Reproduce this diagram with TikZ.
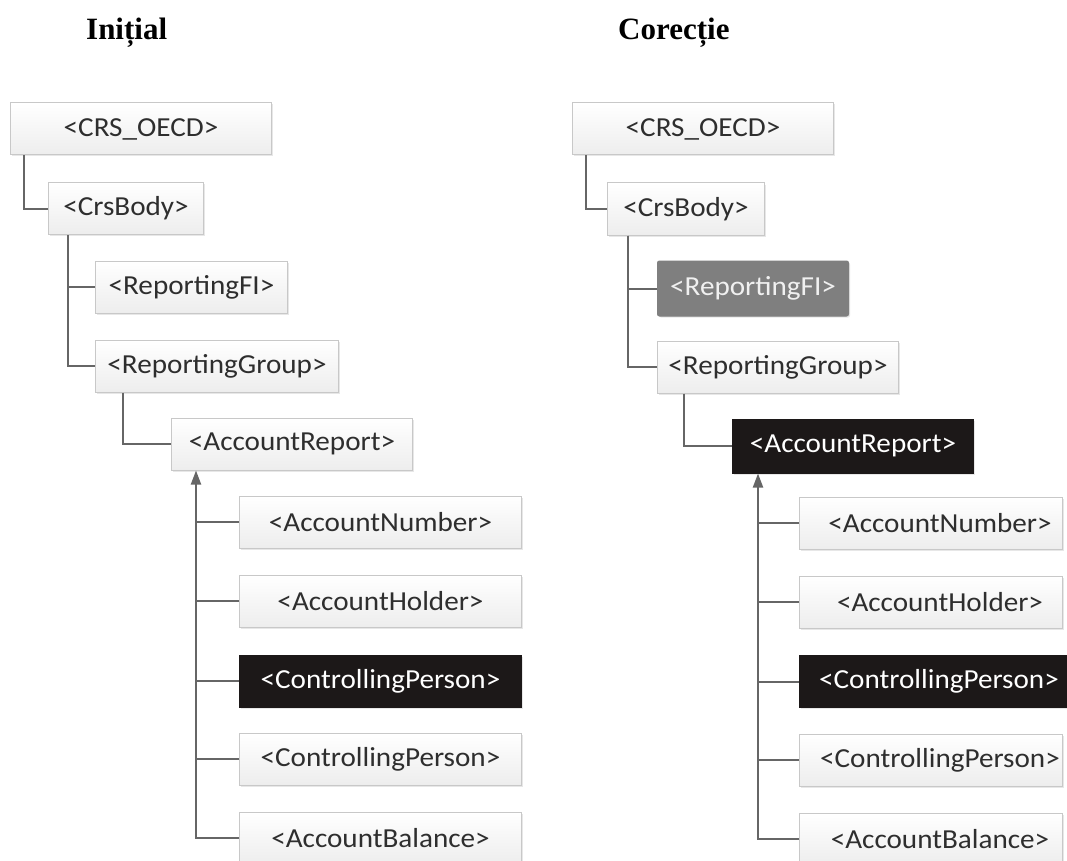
\documentclass[tikz,border=0pt]{standalone}
\usepackage{fontspec}
\newfontfamily\boxfont[FakeStretch=1.06]{Carlito}
\newfontfamily\headfont{Liberation Serif}
\usetikzlibrary{arrows.meta,shadows}
\definecolor{boxline}{HTML}{C8C8C8}
\definecolor{connc}{HTML}{666666}
\definecolor{boxtext}{HTML}{2E2E2E}
\definecolor{darkbox}{HTML}{1C1818}
\definecolor{midbox}{HTML}{7F7F7F}
\tikzset{
  el/.style={draw=boxline, line width=1pt, top color=white, bottom color=gray!14,
    anchor=west, minimum height=52pt, inner sep=0pt,
    font=\boxfont\fontsize{27.5}{30}\selectfont, text=boxtext,
    drop shadow={shadow xshift=1.5pt, shadow yshift=-1.5pt, opacity=0.3, fill=gray!60}},
  darkel/.style={el, draw=darkbox, top color=darkbox, bottom color=darkbox, text=white},
  midel/.style={el, draw=midbox, top color=midbox, bottom color=midbox, text=gray!12,
    rounded corners=2pt, minimum height=55pt},
  conn/.style={draw=connc, line width=2pt},
  upconn/.style={conn, -{Triangle[length=14pt,width=10pt]}},
  head/.style={anchor=base west, font=\headfont\bfseries\fontsize{31}{36}\selectfont,
    inner sep=0pt}
}
\begin{document}
\begin{tikzpicture}[x=1pt,y=-1pt]
\useasboundingbox (0,0) rectangle (1067,861);
\fill[white] (0,0) rectangle (1067,861);

% headers
\node[head] (hL) at (86,40) {Inițial};
\node[head] (hR) at (618,40) {Corecție};

% ---------- left tree ----------
\node[el, minimum width=261pt] (crsL) at (10,129) {<CRS\_OECD>};
\node[el, minimum width=155pt] (bodyL) at (48,208.5) {<CrsBody>};
\node[el, minimum width=192pt] (fiL) at (95,287) {<ReportingFI>};
\node[el, minimum width=243pt] (grpL) at (95,366) {<ReportingGroup>};
\node[el, minimum width=241pt] (arL) at (171,444) {<AccountReport>};
\node[el, minimum width=282pt] (numL) at (239,522) {<AccountNumber>};
\node[el, minimum width=282pt] (holdL) at (239,601) {<AccountHolder>};
\node[darkel, minimum width=282pt] (cpL) at (239,681) {<ControllingPerson>};
\node[el, minimum width=282pt] (cpbL) at (239,759) {<ControllingPerson>};
\node[el, minimum width=282pt] (balL) at (239,838) {<AccountBalance>};

\draw[conn] ([xshift=14pt]crsL.south west) |- (bodyL.west);
\draw[conn] ([xshift=20pt]bodyL.south west) |- (fiL.west);
\draw[conn] ([xshift=20pt]bodyL.south west) |- (grpL.west);
\draw[conn] ([xshift=28pt]grpL.south west) |- (arL.west);
\coordinate (axL) at ([xshift=25pt]arL.south west);
\draw[upconn] (balL.west) -| (axL);
\foreach \n in {numL,holdL,cpL,cpbL} \draw[conn] (\n.west) -- (\n.west -| axL);

% ---------- right tree ----------
\node[el, minimum width=261pt] (crsR) at (572,129) {<CRS\_OECD>};
\node[el, minimum width=157pt] (bodyR) at (607,209) {<CrsBody>};
\node[midel, minimum width=191pt] (fiR) at (657,288.5) {<ReportingFI>};
\node[el, minimum width=241pt] (grpR) at (657,367) {<ReportingGroup>};
\node[darkel, minimum width=241pt, minimum height=54pt] (arR) at (732,446) {<AccountReport>};
\node[el, minimum width=263pt] (numR) at (799,523) {\hspace*{18pt}<AccountNumber>};
\node[el, minimum width=263pt] (holdR) at (799,602) {\hspace*{18pt}<AccountHolder>};
\node[darkel, minimum width=275pt] (cpR) at (799,681.5) {\hspace*{4pt}<ControllingPerson>};
\node[el, minimum width=263pt] (cpbR) at (799,760) {\hspace*{18pt}<ControllingPerson>};
\node[el, minimum width=263pt] (balR) at (799,839) {\hspace*{18pt}<AccountBalance>};

\draw[conn] ([xshift=14pt]crsR.south west) |- (bodyR.west);
\draw[conn] ([xshift=21pt]bodyR.south west) |- (fiR.west);
\draw[conn] ([xshift=21pt]bodyR.south west) |- (grpR.west);
\draw[conn] ([xshift=27pt]grpR.south west) |- (arR.west);
\coordinate (axR) at ([xshift=26pt]arR.south west);
\draw[upconn] (balR.west) -| (axR);
\foreach \n in {numR,holdR,cpR,cpbR} \draw[conn] (\n.west) -- (\n.west -| axR);
\end{tikzpicture}
\end{document}
